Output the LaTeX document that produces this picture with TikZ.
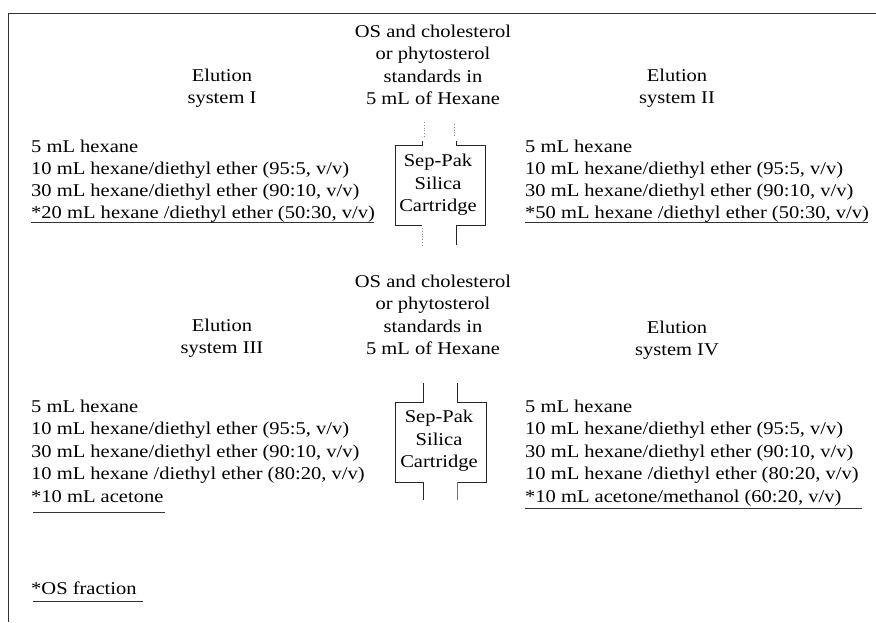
\documentclass[tikz,border=0pt]{standalone}
\usepackage{fontspec}
\setmainfont[FakeStretch=1.14]{Liberation Serif}
\begin{document}
\begin{tikzpicture}[x=1pt,y=-1pt,
  txt/.style={font=\fontsize{18}{22.4}\selectfont, inner sep=0pt},
  lst/.style={txt, anchor=base west},
  ttl/.style={txt, align=center},
  cart/.style={line width=0.9pt, black!85},
  faint/.style={line width=0.8pt, black!45, dotted},
  rule/.style={line width=0.9pt, black!80}]
\useasboundingbox (0,0) rectangle (876,622);
% frame
\draw[rule] (876,13) -- (8,13) -- (8,622);
% ---------- upper part ----------
\node[ttl] (src1) at (433,65) {OS and cholesterol\\or phytosterol\\standards in\\5 mL of Hexane};
\node[ttl] (el1) at (222,88) {Elution\\system I};
\node[ttl] (el2) at (677,88) {Elution\\system II};
\node[ttl] (sp1) at (438,185) {Sep-Pak\\Silica\\Cartridge};
\draw[cart] (422,141) -- (422,145) -- (395,145) -- (395,225) -- (422,225);
\draw[cart] (456,141) -- (456,145) -- (485,145) -- (485,225) -- (456,225) -- (456,245);
\draw[faint] (424,122) -- (424,138);
\draw[faint] (454,124) -- (454,136);
\draw[faint] (422,228) -- (422,245);
% list I
\node[lst] (a1) at (31,152) {5 mL hexane};
\node[lst] (a2) at (31,174) {10 mL hexane/diethyl ether (95:5, v/v)};
\node[lst] (a3) at (31,196) {30 mL hexane/diethyl ether (90:10, v/v)};
\node[lst] (a4) at (31,218) {*20 mL hexane /diethyl ether (50:30, v/v)};
\draw[rule] (31,222) -- (374,222);
% list II
\node[lst] (b1) at (525,152) {5 mL hexane};
\node[lst] (b2) at (525,174) {10 mL hexane/diethyl ether (95:5, v/v)};
\node[lst] (b3) at (525,196) {30 mL hexane/diethyl ether (90:10, v/v)};
\node[lst] (b4) at (525,218) {*50 mL hexane /diethyl ether (50:30, v/v)};
\draw[rule] (525,222) -- (868,222);
% ---------- lower part ----------
\node[ttl] (src2) at (433,315) {OS and cholesterol\\or phytosterol\\standards in\\5 mL of Hexane};
\node[ttl] (el3) at (222,338) {Elution\\system III};
\node[ttl] (el4) at (677,340) {Elution\\system IV};
\node[ttl] (sp2) at (439,441) {Sep-Pak\\Silica\\Cartridge};
\draw[cart] (423,383) -- (423,402) -- (395,402) -- (395,482) -- (423,482) -- (423,500);
\draw[cart] (457,383) -- (457,402) -- (486,402) -- (486,482) -- (457,482);
\draw[cart, black!55] (457,482) -- (457,500);
% list III
\node[lst] (c1) at (31,412) {5 mL hexane};
\node[lst] (c2) at (31,434.5) {10 mL hexane/diethyl ether (95:5, v/v)};
\node[lst] (c3) at (31,457) {30 mL hexane/diethyl ether (90:10, v/v)};
\node[lst] (c4) at (31,479.5) {10 mL hexane /diethyl ether (80:20, v/v)};
\node[lst] (c5) at (31,502) {*10 mL acetone};
\draw[rule] (33,512) -- (165,512);
% list IV
\node[lst] (d1) at (525,412) {5 mL hexane};
\node[lst] (d2) at (525,434.5) {10 mL hexane/diethyl ether (95:5, v/v)};
\node[lst] (d3) at (525,457) {30 mL hexane/diethyl ether (90:10, v/v)};
\node[lst] (d4) at (525,479.5) {10 mL hexane /diethyl ether (80:20, v/v)};
\node[lst] (d5) at (525,502) {*10 mL acetone/methanol (60:20, v/v)};
\draw[rule] (525,508) -- (862,508);
% footnote
\node[lst] (fn) at (31,594) {*OS fraction};
\draw[rule] (33,601) -- (143,601);
\end{tikzpicture}
\end{document}
